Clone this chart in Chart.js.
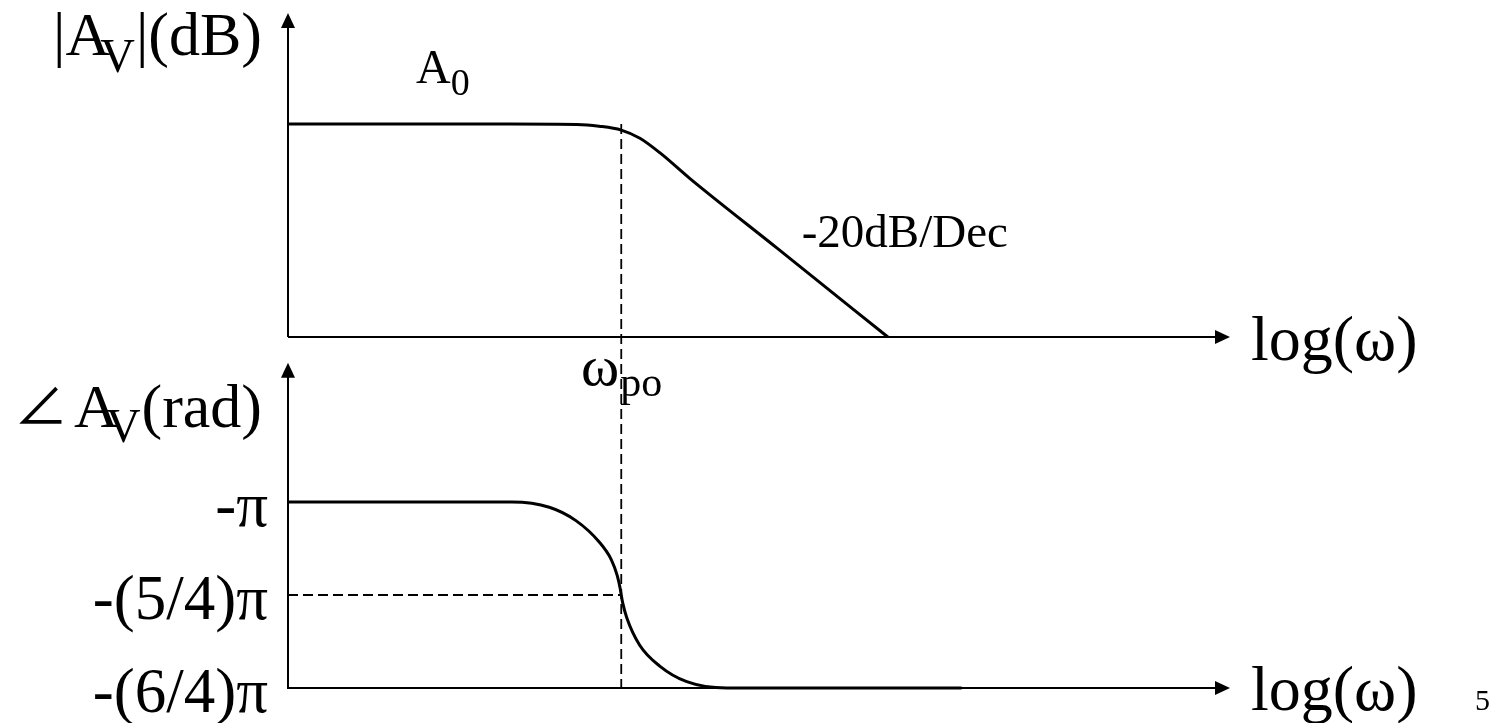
<!DOCTYPE html>
<html>
<head>
<meta charset="utf-8">
<title>Bode plot – single pole</title>
<script src="https://cdn.jsdelivr.net/npm/chart.js@4/dist/chart.umd.min.js"></script>
<style>
  html, body { margin: 0; padding: 0; background: #fff; }
  #wrap { position: relative; width: 1499px; height: 723px; }
</style>
</head>
<body>
<div id="wrap"><canvas id="bode"></canvas></div>
<script>
// ---- data: x is log10(ω) in decades ----
const W_PO = 3.75;          // pole frequency (log scale)
const A0_DB = 60;           // low-frequency gain

const MAG_LOGW = [0, 2.5, 3.25, 3.5, 3.75, 3.96, 4.19, 4.52, 5.5, 6.75];
const MAG_DB   = [60, 60, 59.9, 59.4, 58.3, 56.0, 51.8, 44.7, 25.1, 0];

const PHASE_LOGW = [0, 2.52, 2.94, 3.24, 3.50, 3.64, 3.705, 3.739, 3.75, 3.767, 3.812, 3.958, 4.183, 4.487, 4.937, 7.58];
const PHASE_PI   = [-1, -1, -1.014, -1.05, -1.107, -1.156, -1.198, -1.234, -1.25, -1.272, -1.311, -1.385, -1.441, -1.483, -1.5, -1.5];

const PHASE_TICKS       = [-1, -1.25, -1.5];
const PHASE_TICK_LABELS = ['-π', '-(5/4)π', '-(6/4)π'];

// ---- scale ranges (both y scales share the full plot height) ----
const X_RANGE     = [0, 10.6];
const MAG_RANGE   = [-98.9, 91.3];
const PHASE_RANGE = [-1.5, 0.3145];
const PHASE_AXIS_TOP = -0.626;

const SERIF = '"Liberation Serif", "Times New Roman", "DejaVu Serif", serif';
const ANGLE = '"Noto Sans CJK JP", "DejaVu Sans", sans-serif';
const font = (px, fam) => px + 'px ' + (fam || SERIF);

function toPoints(xs, ys) { return xs.map((x, i) => ({ x, y: ys[i] })); }

// draw a run of text pieces (for subscripts); align 'left' or 'right'
function drawRun(ctx, x, y, parts, align) {
  let total = 0;
  for (const p of parts) { ctx.font = font(p.size, p.fam); total += (p.dx || 0) + ctx.measureText(p.t).width; }
  let cx = align === 'right' ? x - total : x;
  for (const p of parts) {
    ctx.font = font(p.size, p.fam);
    cx += (p.dx || 0);
    ctx.fillText(p.t, cx, y + (p.dy || 0));
    cx += ctx.measureText(p.t).width;
  }
}

function arrow(ctx, tipX, tipY, dir) {
  const L = 15, H = 7;
  ctx.beginPath();
  if (dir === 'up') {
    ctx.moveTo(tipX, tipY); ctx.lineTo(tipX - H, tipY + L); ctx.lineTo(tipX + H, tipY + L);
  } else {
    ctx.moveTo(tipX, tipY); ctx.lineTo(tipX - L, tipY - H); ctx.lineTo(tipX - L, tipY + H);
  }
  ctx.closePath();
  ctx.fill();
}

const bodeFrame = {
  id: 'bodeFrame',
  beforeDatasetsDraw(chart) {
    const { ctx, chartArea: a, scales } = chart;
    const x0 = a.left, x1 = a.right;
    const yMag0 = scales.yMag.getPixelForValue(0);
    const yPhB = scales.yPh.getPixelForValue(PHASE_RANGE[0]);
    const yPhT = scales.yPh.getPixelForValue(PHASE_AXIS_TOP);
    ctx.save();
    ctx.strokeStyle = '#000'; ctx.fillStyle = '#000'; ctx.lineWidth = 2;
    ctx.beginPath();
    // magnitude axes
    ctx.moveTo(x0, yMag0); ctx.lineTo(x0, a.top + 10);
    ctx.moveTo(x0, yMag0); ctx.lineTo(x1 - 10, yMag0);
    // phase axes
    ctx.moveTo(x0, yPhB); ctx.lineTo(x0, yPhT + 10);
    ctx.moveTo(x0 - 1, yPhB); ctx.lineTo(x1 - 10, yPhB);
    ctx.stroke();
    arrow(ctx, x0, a.top, 'up');
    arrow(ctx, x1, yMag0, 'right');
    arrow(ctx, x0, yPhT, 'up');
    arrow(ctx, x1, yPhB, 'right');
    ctx.restore();
  },
  afterDraw(chart) {
    const { ctx, chartArea: a, scales } = chart;
    const xs = scales.x, yMag = scales.yMag, yPh = scales.yPh;
    ctx.save();
    ctx.fillStyle = '#000';
    ctx.textBaseline = 'alphabetic';

    // axis titles
    drawRun(ctx, a.left - 26, a.top + 42, [
      { t: '|A', size: 62 },
      { t: 'V', size: 48, dx: -10, dy: 17 },
      { t: '|(dB)', size: 62, dx: 1 }
    ], 'right');
    const yPhT = yPh.getPixelForValue(PHASE_AXIS_TOP);
    drawRun(ctx, a.left - 26, yPhT + 64, [
      { t: '∠', size: 54, fam: ANGLE, dy: -2 },
      { t: 'A', size: 62, dx: 6 },
      { t: 'V', size: 48, dx: -13, dy: 15 },
      { t: '(rad)', size: 62, dx: 1 }
    ], 'right');

    // phase tick labels
    PHASE_TICKS.forEach((v, i) => {
      drawRun(ctx, a.left - 20, yPh.getPixelForValue(v) + 24, [{ t: PHASE_TICK_LABELS[i], size: 63 }], 'right');
    });

    // horizontal axis labels
    const yMag0 = yMag.getPixelForValue(0);
    const yPhB = yPh.getPixelForValue(PHASE_RANGE[0]);
    drawRun(ctx, a.right + 21, yMag0 + 23, [{ t: 'log(ω)', size: 64 }], 'left');
    drawRun(ctx, a.right + 21, yPhB + 22, [{ t: 'log(ω)', size: 64 }], 'left');

    // annotations
    drawRun(ctx, a.left + 128, yMag.getPixelForValue(A0_DB) - 41, [
      { t: 'A', size: 48 },
      { t: '0', size: 38, dy: 12 }
    ], 'left');
    drawRun(ctx, xs.getPixelForValue(5.78), yMag.getPixelForValue(25.5), [{ t: '-20dB/Dec', size: 47 }], 'left');
    const xp = xs.getPixelForValue(W_PO);
    drawRun(ctx, xp - 2, yMag0 + 48, [{ t: 'ω', size: 58 }], 'right');
    drawRun(ctx, xp - 1, yMag0 + 59, [{ t: 'po', size: 42 }], 'left');

    // slide number
    drawRun(ctx, 1475, yPhB + 22, [{ t: '5', size: 30 }], 'left');
    ctx.restore();
  }
};

const curve = { borderColor: '#000', borderWidth: 3, pointRadius: 0, fill: false,
                cubicInterpolationMode: 'monotone', clip: false };
const guide = { borderColor: '#000', borderWidth: 1.8, borderDash: [10, 5], pointRadius: 0,
                fill: false, tension: 0, clip: false };

new Chart(document.getElementById('bode'), {
  type: 'line',
  data: {
    datasets: [
      Object.assign({ label: '|Av| (dB)', data: toPoints(MAG_LOGW, MAG_DB), yAxisID: 'yMag', order: 1 }, curve),
      Object.assign({ label: '∠Av (π rad)', data: toPoints(PHASE_LOGW, PHASE_PI), yAxisID: 'yPh', order: 1 }, curve),
      Object.assign({ label: 'ωpo', data: [{ x: W_PO, y: A0_DB }, { x: W_PO, y: MAG_RANGE[0] }], yAxisID: 'yMag', order: 2 }, guide),
      Object.assign({ label: '-(5/4)π', data: [{ x: 0, y: -1.25 }, { x: W_PO, y: -1.25 }], yAxisID: 'yPh', order: 2 }, guide)
    ]
  },
  options: {
    responsive: true,
    maintainAspectRatio: false,
    animation: false,
    events: [],
    layout: { padding: { left: 288, right: 269, top: 13, bottom: 35 } },
    plugins: { legend: { display: false }, title: { display: false }, tooltip: { enabled: false } },
    scales: {
      x: { type: 'linear', min: X_RANGE[0], max: X_RANGE[1], display: false },
      yMag: { type: 'linear', position: 'left', min: MAG_RANGE[0], max: MAG_RANGE[1], display: false },
      yPh: { type: 'linear', position: 'left', min: PHASE_RANGE[0], max: PHASE_RANGE[1], display: false }
    }
  },
  plugins: [bodeFrame]
});
</script>
</body>
</html>
